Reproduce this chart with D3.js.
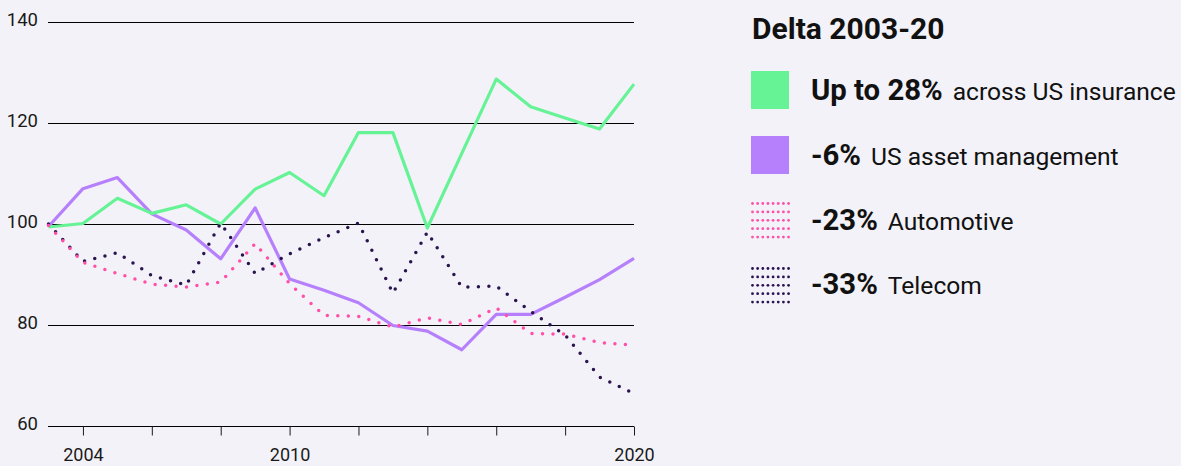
<!DOCTYPE html>
<html>
<head>
<meta charset="utf-8">
<script src="https://cdn.jsdelivr.net/npm/d3@7"></script>
<style>
  html, body { margin: 0; padding: 0; background: #f3f2f8; }
  svg { display: block; font-family: Roboto, "Noto Sans", sans-serif; }
</style>
</head>
<body>
<svg id="chart" width="1181" height="466"></svg>
<script>
const years = d3.range(2003, 2021);
const insurance  = [99.4, 100.1, 105.1, 102.1, 103.8, 100.0, 106.9, 110.2, 105.6, 118.1, 118.1, 99.2, 114.0, 128.7, 123.2, 121.0, 118.8, 127.7];
const assetMgmt  = [99.5, 107.0, 109.2, 102.0, 98.8, 93.1, 103.2, 89.1, 86.9, 84.4, 79.9, 78.8, 75.1, 82.1, 82.1, 85.5, 89.0, 93.2];
const automotive = [99.7, 92.4, 90.2, 88.1, 87.5, 88.5, 96.1, 88.2, 81.9, 81.7, 79.6, 81.4, 80.1, 83.4, 78.3, 78.2, 76.5, 76.0];
const telecom    = [100.0, 92.6, 94.3, 89.8, 87.9, 100.2, 90.2, 94.1, 97.3, 100.2, 86.3, 98.4, 87.5, 87.7, 82.7, 78.0, 69.7, 66.4];

const yTicks = [60, 80, 100, 120, 140];
const xTicks = [2004, 2006, 2008, 2010, 2012, 2014, 2016, 2018, 2020];
const xLabels = [2004, 2010, 2020];

const legendTitle = "Delta 2003-20";
const legendBold = ["Up to 28%", "-6%", "-23%", "-33%"];
const legendText = ["across US insurance", "US asset management", "Automotive", "Telecom"];

const colors = { insurance: "#66f396", asset: "#b680fd", auto: "#ff4fa7", telecom: "#2a1450" };

const svg = d3.select("#chart");
const x = d3.scaleLinear().domain([2003, 2020]).range([48.5, 634]);
const y = d3.scaleLinear().domain([60, 140]).range([426, 22]);

// gridlines
svg.append("g").selectAll("line").data(yTicks).join("line")
  .attr("x1", 48).attr("x2", 634)
  .attr("y1", d => Math.round(y(d)) + 0.5).attr("y2", d => Math.round(y(d)) + 0.5)
  .attr("stroke", "#000").attr("stroke-width", 1);

// y labels
svg.append("g").selectAll("text").data(yTicks).join("text")
  .attr("x", 38).attr("y", d => y(d) + 4)
  .attr("text-anchor", "end").attr("font-size", 18.5).attr("fill", "#1a1a1a")
  .text(d => d);

// x axis
const xAxis = d3.axisBottom(x).tickValues(xTicks).tickSize(9)
  .tickFormat(d => xLabels.includes(d) ? d : "");
const gx = svg.append("g").attr("transform", `translate(0,${Math.round(y(60)) + 0.5})`).call(xAxis);
gx.select(".domain").remove();
gx.selectAll(".tick line").attr("stroke", "#1a1a1a");
gx.selectAll(".tick text").attr("font-size", 18).attr("fill", "#1a1a1a")
  .attr("font-family", "Roboto, sans-serif").attr("y", 34.5).attr("dy", 0);

const line = d3.line().x((d, i) => x(years[i])).y(d => y(d));

svg.append("path").datum(assetMgmt).attr("d", line)
  .attr("fill", "none").attr("stroke", colors.asset).attr("stroke-width", 3.2).attr("stroke-linejoin", "round");
svg.append("path").datum(insurance).attr("d", line)
  .attr("fill", "none").attr("stroke", colors.insurance).attr("stroke-width", 3.2).attr("stroke-linejoin", "round");
svg.append("path").datum(telecom).attr("d", line)
  .attr("fill", "none").attr("stroke", colors.telecom).attr("stroke-width", 3.5)
  .attr("stroke-linecap", "round").attr("stroke-dasharray", "0 10.5");
svg.append("path").datum(automotive).attr("d", line)
  .attr("fill", "none").attr("stroke", colors.auto).attr("stroke-width", 3.5)
  .attr("stroke-linecap", "round").attr("stroke-dasharray", "0 10.5");

// legend
const lg = svg.append("g");
lg.append("text").attr("x", 752).attr("y", 38.5).attr("font-size", 30).attr("font-weight", 700)
  .attr("fill", "#111").text(legendTitle);

const itemTop = [71, 136, 203, 268];
const baselines = [100, 165, 230, 293.5];
const legColors = [colors.insurance, colors.asset, colors.auto, colors.telecom];

[0, 1].forEach(i => {
  lg.append("rect").attr("x", 751).attr("y", itemTop[i]).attr("width", 38).attr("height", 38)
    .attr("fill", legColors[i]);
});
[2, 3].forEach(i => {
  const pts = [];
  for (let r = 0; r < 5; r++) for (let c = 0; c < 8; c++) pts.push([r, c]);
  lg.append("g").selectAll("circle").data(pts).join("circle")
    .attr("cx", d => 752.5 + d[1] * 5.15).attr("cy", d => itemTop[i] + 0.5 + d[0] * 8.4)
    .attr("r", 1.4).attr("fill", legColors[i]);
});

legendBold.forEach((b, i) => {
  const t = lg.append("text").attr("x", 811).attr("y", baselines[i]).attr("fill", "#111");
  t.append("tspan").attr("font-size", 29.3).attr("font-weight", 700).text(b);
  t.append("tspan").attr("font-size", 24.6).attr("dx", 10).text(legendText[i]);
});
</script>
</body>
</html>
